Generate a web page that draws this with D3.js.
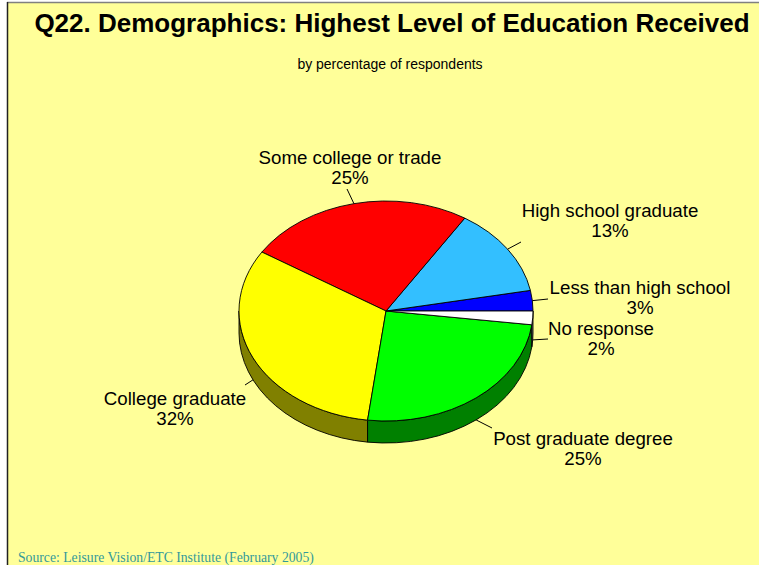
<!DOCTYPE html>
<html>
<head>
<meta charset="utf-8">
<script src="https://cdn.jsdelivr.net/npm/d3@7"></script>
<style>
  html, body { margin: 0; padding: 0; background: #ffffff; }
  svg { display: block; }
</style>
</head>
<body>
<svg id="chart" width="759" height="565"></svg>
<script>
// Education levels, in the order they run around the pie (counter-clockwise from 3 o'clock)
const categories = [
  "Less than high school",
  "High school graduate",
  "Some college or trade",
  "College graduate",
  "Post graduate degree",
  "No response"
];
const percents = [3, 13, 25, 32, 25, 2];
const topColors  = ["#0000ff", "#33bfff", "#ff0000", "#ffff00", "#00ff00", "#ffffff"];
const sideColors = ["#000080", "#1a6080", "#800000", "#808000", "#008000", "#808080"];

const titleText = "Q22. Demographics: Highest Level of Education Received";
const subtitleText = "by percentage of respondents";
const sourceText = "Source:  Leisure Vision/ETC Institute (February 2005)";

// Label placement: text centre x, first baseline y, and the outer end of each leader line
const labelLayout = [
  { x: 640, y: 294, lx: 548, ly: 299 },
  { x: 610, y: 217, lx: 521, ly: 242 },
  { x: 350, y: 164, lx: 347, ly: 189 },
  { x: 175, y: 405, lx: 245, ly: 385 },
  { x: 583, y: 445, lx: 492, ly: 428 },
  { x: 601, y: 335, lx: 548, ly: 339 }
];

const W = 759, H = 565;
const svg = d3.select("#chart");

// Panel background with its frame
svg.append("rect").attr("x", 7).attr("y", 2).attr("width", W).attr("height", H)
  .attr("fill", "#ffff99");
svg.append("line").attr("x1", 7).attr("y1", 2.5).attr("x2", W).attr("y2", 2.5)
  .attr("stroke", "#808080").attr("stroke-width", 1.5);
svg.append("line").attr("x1", 7.5).attr("y1", 2).attr("x2", 7.5).attr("y2", H)
  .attr("stroke", "#222").attr("stroke-width", 1.5);

svg.append("text").attr("x", 392).attr("y", 31.5).attr("text-anchor", "middle")
  .attr("font-family", "Liberation Sans, Arial, sans-serif").attr("font-weight", "bold")
  .attr("font-size", 26).attr("fill", "#000").text(titleText);

svg.append("text").attr("x", 390).attr("y", 69).attr("text-anchor", "middle")
  .attr("font-family", "Liberation Sans, Arial, sans-serif")
  .attr("font-size", 14).attr("fill", "#000").text(subtitleText);

svg.append("text").attr("x", 18).attr("y", 562)
  .attr("font-family", "Liberation Serif, Times New Roman, serif")
  .attr("font-size", 13.7).attr("fill", "#339999").text(sourceText);

// 3-D pie geometry
const cx = 386, cy = 311, rx = 147, ry = 110, depth = 22;
const pt = (a, dy = 0) => [cx + rx * Math.sin(a), cy - ry * Math.cos(a) + dy];

const pie = d3.pie().sort(null)
  .startAngle(Math.PI / 2)
  .endAngle(Math.PI / 2 - 2 * Math.PI);
const arcs = pie(percents).map((d, i) => ({
  i,
  lo: Math.min(d.startAngle, d.endAngle),
  hi: Math.max(d.startAngle, d.endAngle)
}));

// Front-facing part of the rim lies between -3π/2 and -π/2 in this angle range
const frontLo = -1.5 * Math.PI, frontHi = -0.5 * Math.PI;
const g = svg.append("g");

arcs.forEach(d => {
  const a0 = Math.max(d.lo, frontLo), a1 = Math.min(d.hi, frontHi);
  if (a1 <= a0) return;
  const p0 = pt(a0), p1 = pt(a1), q1 = pt(a1, depth), q0 = pt(a0, depth);
  const path = `M${p0}A${rx},${ry} 0 0 1 ${p1}L${q1}A${rx},${ry} 0 0 0 ${q0}Z`;
  g.append("path").attr("d", path)
    .attr("fill", sideColors[d.i]).attr("stroke", "#000").attr("stroke-width", 0.9)
    .attr("stroke-linejoin", "round");
});

arcs.forEach(d => {
  const p0 = pt(d.lo), p1 = pt(d.hi);
  const large = (d.hi - d.lo) > Math.PI ? 1 : 0;
  const path = `M${cx},${cy}L${p0}A${rx},${ry} 0 ${large} 1 ${p1}Z`;
  g.append("path").attr("d", path)
    .attr("fill", topColors[d.i]).attr("stroke", "#000").attr("stroke-width", 0.9)
    .attr("stroke-linejoin", "round");
});

// Leader lines and labels
const labels = svg.append("g")
  .attr("font-family", "Liberation Sans, Arial, sans-serif")
  .attr("font-size", 18.7).attr("fill", "#000");

arcs.forEach(d => {
  const mid = (d.lo + d.hi) / 2;
  const onFront = Math.cos(mid) < 0;
  const start = pt(mid, onFront ? depth : 0);
  const L = labelLayout[d.i];
  svg.append("line")
    .attr("x1", start[0]).attr("y1", start[1])
    .attr("x2", L.lx).attr("y2", L.ly)
    .attr("stroke", "#000").attr("stroke-width", 1);
  const t = labels.append("text").attr("text-anchor", "middle");
  t.append("tspan").attr("x", L.x).attr("y", L.y).text(categories[d.i]);
  t.append("tspan").attr("x", L.x).attr("y", L.y + 20).text(percents[d.i] + "%");
});
</script>
</body>
</html>
